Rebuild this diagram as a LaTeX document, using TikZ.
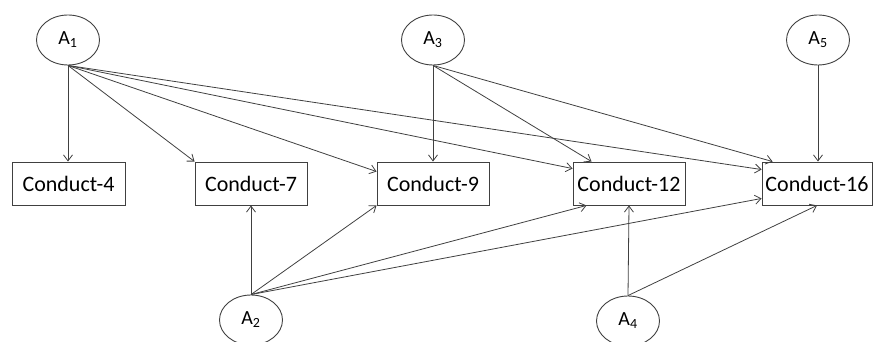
\documentclass[tikz,border=0pt]{standalone}
\usepackage{fontspec}
\setmainfont{Carlito}
\usetikzlibrary{shapes.geometric,arrows.meta}
\begin{document}
\begin{tikzpicture}[x=1pt,y=-1pt,
  lat/.style={ellipse,draw=black!75,line width=0.9pt,minimum width=63pt,minimum height=50pt,inner sep=0pt,font=\fontsize{20}{24}\selectfont},
  box/.style={rectangle,draw=black!75,line width=0.9pt,minimum height=43pt,inner sep=0pt,font=\fontsize{22}{26}\selectfont},
  arr/.style={draw=black!75,line width=0.8pt,-{Straight Barb[length=6pt,width=9pt]}}]
\useasboundingbox (0,0) rectangle (874,342);
\node[lat] (A1) at (68,40) {A\textsubscript{1}};
\node[lat] (A3) at (433,40) {A\textsubscript{3}};
\node[lat] (A5) at (818,40) {A\textsubscript{5}};
\node[lat] (A2) at (251,320) {A\textsubscript{2}};
\node[lat] (A4) at (628,321) {A\textsubscript{4}};
\node[box,minimum width=113pt] (C4) at (68.5,183.5) {Conduct-4};
\node[box,minimum width=112pt] (C7) at (251,183.5) {Conduct-7};
\node[box,minimum width=112pt] (C9) at (433,183.5) {Conduct-9};
\node[box,minimum width=112pt] (C12) at (629,183.5) {Conduct-12};
\node[box,minimum width=110pt] (C16) at (817,183.5) {Conduct-16};
\draw[arr] (A1.south) -- (A1.south |- C4.north);
\draw[arr] (A1.south) -- (C7.north west);
\draw[arr] (A1.south) -- ([yshift=-10pt]C9.north west);
\draw[arr] (A1.south) -- ([yshift=-7pt]C12.north west);
\draw[arr] (A1.south) -- ([yshift=-8pt]C16.north west);
\draw[arr] (A3.south) -- (C9.north);
\draw[arr] (A3.south) -- ([xshift=19pt]C12.north west);
\draw[arr] (A3.south) -- ([xshift=11pt]C16.north west);
\draw[arr] (A5.south) -- (A5.south |- C16.north);
\draw[arr] (A2.north) -- (C7.south);
\draw[arr] (A2.north) -- (C9.south west);
\draw[arr] (A2.north) -- ([xshift=14pt]C12.south west);
\draw[arr] (A2.north) -- ([yshift=7pt]C16.south west);
\draw[arr] (A4.north) -- (C12.south);
\draw[arr] (A4.north) -- (C16.south);
\end{tikzpicture}
\end{document}
